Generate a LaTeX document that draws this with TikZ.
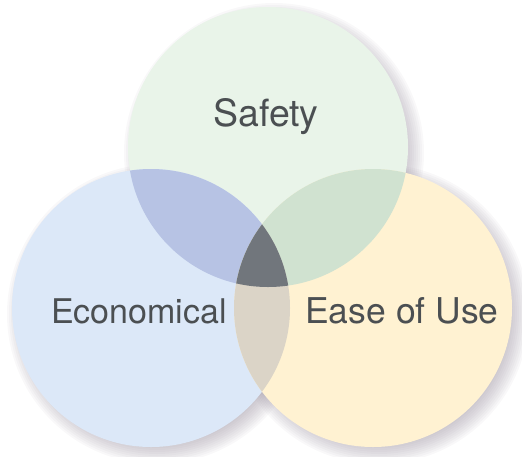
\documentclass[tikz,border=0pt]{standalone}
\usepackage{fontspec}
\setmainfont{TeX Gyre Heros}

\definecolor{safetygreen}{HTML}{E9F4E9}
\definecolor{econblue}{HTML}{DCE8F8}
\definecolor{easeyellow}{HTML}{FFF2D2}
\definecolor{safeecon}{HTML}{B7C3E4}
\definecolor{safeease}{HTML}{D0E2D0}
\definecolor{econease}{HTML}{DBD4C7}
\definecolor{allthree}{HTML}{71767C}
\definecolor{labelgray}{HTML}{4B4F52}
\definecolor{shadowgray}{HTML}{8E8494}

\tikzset{
  venntext/.style={anchor=base, text=labelgray, font=\fontsize{34}{40}\selectfont},
  shadowring/.style={fill=shadowgray, opacity=0.055}
}

\begin{document}
\begin{tikzpicture}[x=1pt,y=-1pt]
            % Frame
            \useasboundingbox (0,0) rectangle (522,456);

            % Centres of the three sets
            \coordinate (safe) at (268,147);
            \coordinate (econ) at (151,308);
            \coordinate (ease) at (373,308);

            % Soft shadow, down and to the right
            \foreach \r in {128,130,...,150} {
                \fill[shadowring] ([shift={(6,6)}]safe) circle[radius=\r pt];
                \fill[shadowring] ([shift={(6,6)}]econ) circle[radius=\r pt];
                \fill[shadowring] ([shift={(6,6)}]ease) circle[radius=\r pt];
            }

            % The circles
            \fill[safetygreen] (safe) circle[radius=140pt];
            \fill[econblue] (econ) circle[radius=139pt];
            \fill[easeyellow] (ease) circle[radius=139pt];

            % Overlap: Safety and Economical
            \begin{scope}
                \clip (safe) circle[radius=140pt];
                \fill[safeecon] (econ) circle[radius=139pt];
            \end{scope}

            % Overlap: Safety and Ease of Use
            \begin{scope}
                \clip (safe) circle[radius=140pt];
                \fill[safeease] (ease) circle[radius=139pt];
            \end{scope}

            % Overlap: Economical and Ease of Use
            \begin{scope}
                \clip (econ) circle[radius=139pt];
                \fill[econease] (ease) circle[radius=139pt];
            \end{scope}

            % Overlap of all three
            \begin{scope}
                \clip (safe) circle[radius=140pt];
                \clip (econ) circle[radius=139pt];
                \fill[allthree] (ease) circle[radius=139pt];
            \end{scope}

            % Labels
            \node[venntext, font=\fontsize{37.5}{44}\selectfont] (safety) at (266,126) {Safety};
            \node[venntext] (economical) at (139,323) {Economical};
            \node[venntext, font=\fontsize{35.5}{42}\selectfont] (easeofuse) at (402,323) {Ease of Use};
        \end{tikzpicture}
\end{document}
